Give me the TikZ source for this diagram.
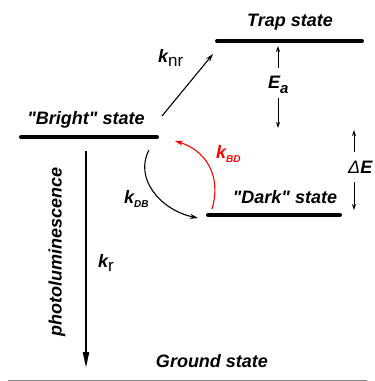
\documentclass[tikz,border=0pt]{standalone}
\usepackage{fontspec}
\setmainfont{Liberation Sans}[Ligatures=TeXOff]
\usetikzlibrary{arrows.meta}
\begin{document}
\begin{tikzpicture}[x=1pt,y=-1pt,
  level/.style={line width=4pt,line cap=round},
  lbl/.style={font=\fontsize{18}{20}\selectfont\bfseries\itshape,inner sep=0pt},
  thinarr/.style={line width=0.9pt,-{Stealth[length=6pt,width=4pt]}},
  midarr/.style={line width=1.1pt,-{Stealth[length=8pt,width=5pt]}}]
\useasboundingbox (0,0) rectangle (375,381);
% levels
\coordinate (trapL) at (217,41); \coordinate (trapR) at (362,41);
\coordinate (brL) at (21,137); \coordinate (brR) at (157,137);
\coordinate (dkL) at (208,215); \coordinate (dkR) at (340,215);
\draw[level] (trapL) -- (trapR);
\draw[level] (brL) -- (brR);
\draw[level] (dkL) -- (dkR);
% state labels
\node[lbl] (trap) at (290,22) {Trap state};
\node[lbl] (bright) at (86,120) {"Bright" state};
\node[lbl] (dark) at (285,197) {"Dark" state};
\node[lbl] (ground) at (212,361) {Ground state};
% knr
\coordinate (nrA) at (162,116); \coordinate (nrB) at (213,54);
\draw[midarr] (nrA) -- (nrB);
\node[lbl,anchor=west] (knr) at (158,58) {k\raisebox{-4pt}{\fontsize{17}{17}\mdseries\upshape nr}};
% Ea
\coordinate (eaU1) at (278,68); \coordinate (eaU2) at (278,46);
\coordinate (eaD1) at (278,98); \coordinate (eaD2) at (278,128);
\draw[thinarr] (eaU1) -- (eaU2);
\draw[thinarr] (eaD1) -- (eaD2);
\node[lbl,anchor=west] (ea) at (268,85) {E\raisebox{-5pt}{\fontsize{15}{15}\selectfont a}};
% Delta E
\coordinate (deU1) at (354,152); \coordinate (deU2) at (354,130);
\coordinate (deD1) at (354,182); \coordinate (deD2) at (354,210);
\draw[thinarr] (deU1) -- (deU2);
\draw[thinarr] (deD1) -- (deD2);
\node[lbl,anchor=west] (de) at (348,167) {{\mdseries\itshape Δ}E};
% photoluminescence
\coordinate (plA) at (86,151); \coordinate (plB) at (86,368);
\draw[line width=2pt,-{Triangle[length=16pt,width=6pt]}] (plA) -- (plB);
\node[lbl,rotate=90] (pl) at (57,252) {photoluminescence};
\node[lbl,anchor=west] (kr) at (98,263) {k\raisebox{-4pt}{\fontsize{17}{17}\mdseries\upshape r}};
% kDB
\coordinate (dbA) at (149,150); \coordinate (dbB) at (198,218);
\draw[midarr] (dbA) .. controls (134,178) and (160,210) .. (dbB);
\node[lbl,anchor=west] (kdb) at (124,199) {k\raisebox{-4pt}{\fontsize{10}{10}\selectfont DB}};
% kBD
\coordinate (bdA) at (212,209); \coordinate (bdB) at (175,141);
\draw[midarr,red] (bdA) .. controls (222,175) and (205,150) .. (bdB);
\node[lbl,anchor=west,red] (kbd) at (216,154) {k\raisebox{-4pt}{\fontsize{10}{10}\selectfont BD}};
% bottom rule
\coordinate (ruleL) at (8,380); \coordinate (ruleR) at (367,380);
\draw[gray,line width=1pt] (ruleL) -- (ruleR);
\end{tikzpicture}
\end{document}
